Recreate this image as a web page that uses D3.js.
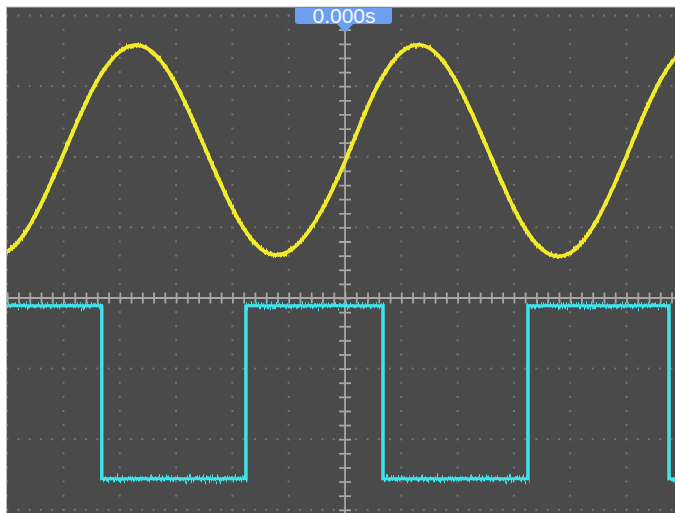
<!DOCTYPE html>
<html>
<head>
<meta charset="utf-8">
<script src="https://cdn.jsdelivr.net/npm/d3@7"></script>
<style>
  html, body { margin: 0; padding: 0; background: #ffffff; }
  svg { display: block; }
</style>
</head>
<body>
<svg id="scope" width="675" height="513"></svg>
<script>
// ---- Waveform data (time in divisions, amplitude in divisions) ----
// CH1: sine trace, sampled every half division
const ch1Times = [-6.5, -6.0, -5.5, -5.0, -4.5, -4.0, -3.5, -3.0, -2.5, -2.0, -1.5, -1.0, -0.5,
                  0.0, 0.5, 1.0, 1.5, 2.0, 2.5, 3.0, 3.5, 4.0, 4.5, 5.0, 5.5, 6.0, 6.5];
const ch1Values = [0.68, 0.66, 1.17, 2.04, 2.93, 3.49, 3.53, 3.02, 2.15, 1.27, 0.70, 0.66, 1.12,
                   1.93, 2.88, 3.48, 3.54, 3.03, 2.17, 1.27, 0.69, 0.64, 1.14, 2.01, 2.93, 3.49, 3.53];

// CH2: square trace, level held from each start time until the next one
const ch2Starts = [-6.2, -4.32, -1.76, 0.675, 3.25, 5.755];
const ch2Levels = [-0.11, -2.56, -0.11, -2.56, -0.11, -2.56];
const ch2End = 6.3;

// Trigger time marker
const triggerLabel = "0.000s";
const triggerTime = 0;

// ---- Layout ----
const W = 675, H = 513;
const plotLeft = 7, plotTop = 7.5;
const centerX = 345, centerY = 298;
const divX = 56.3, divY = 70.6;

const x = d3.scaleLinear().domain([-6, 6]).range([centerX - 6 * divX, centerX + 6 * divX]);
const y = d3.scaleLinear().domain([-4, 4]).range([centerY + 4 * divY, centerY - 4 * divY]);

const svg = d3.select("#scope");

const defs = svg.append("defs");
defs.append("clipPath").attr("id", "screen")
  .append("rect").attr("x", plotLeft).attr("y", plotTop)
  .attr("width", W - plotLeft).attr("height", H - plotTop);

// trace texture: solid core plus a vertically jittered copy for the fuzzy edge
function jitterFilter(id, freq, scale, seed) {
  const f = defs.append("filter").attr("id", id)
    .attr("filterUnits", "userSpaceOnUse")
    .attr("x", 0).attr("y", 0).attr("width", W).attr("height", H);
  f.append("feTurbulence").attr("type", "fractalNoise")
    .attr("baseFrequency", freq).attr("numOctaves", 2).attr("seed", seed).attr("result", "noise");
  f.append("feColorMatrix").attr("in", "noise").attr("type", "matrix")
    .attr("values", "0 0 0 0 0.5  0 1 0 0 0  0 0 0 0 0  0 0 0 0 1").attr("result", "map");
  f.append("feDisplacementMap").attr("in", "SourceGraphic").attr("in2", "map")
    .attr("scale", scale).attr("xChannelSelector", "R").attr("yChannelSelector", "G")
    .attr("result", "disp");
  const m = f.append("feMerge").attr("result", "merged");
  m.append("feMergeNode").attr("in", "disp");
  m.append("feMergeNode").attr("in", "SourceGraphic");
  f.append("feGaussianBlur").attr("in", "merged").attr("stdDeviation", 0.5);
}
jitterFilter("jitter1", "0.9 0.03", 7, 4);
jitterFilter("jitter2", "0.8 0.03", 12, 7);

// screen background
svg.append("rect").attr("x", 0).attr("y", 0).attr("width", W).attr("height", H).attr("fill", "#ffffff");
svg.append("rect").attr("x", plotLeft - 1).attr("y", plotTop - 1)
  .attr("width", W).attr("height", H).attr("fill", "#bdbdbd");
svg.append("rect").attr("x", plotLeft).attr("y", plotTop)
  .attr("width", W).attr("height", H).attr("fill", "#4a4a4a");

const screen = svg.append("g").attr("clip-path", "url(#screen)");

// ---- Dotted graticule ----
const dotColor = "#737373";
const grid = screen.append("g");
const minorX = d3.range(-30, 31).map(k => k / 5);
const minorY = d3.range(-20, 21).map(k => k / 5);
const majorX = d3.range(-6, 7).filter(v => v !== 0);
const majorY = d3.range(-4, 5).filter(v => v !== 0);

majorY.forEach(v => {
  grid.selectAll(null).data(minorX).join("rect")
    .attr("x", d => x(d) - 1).attr("y", y(v) - 1)
    .attr("width", 2).attr("height", 2).attr("fill", dotColor);
});
majorX.forEach(t => {
  grid.selectAll(null).data(minorY).join("rect")
    .attr("x", x(t) - 1).attr("y", d => y(d) - 1)
    .attr("width", 2).attr("height", 2).attr("fill", dotColor);
});

// ---- Centre axes with minor ticks on both sides ----
const axisColor = "#a6a6a6";
function styleAxis(g) {
  g.select(".domain").remove();
  g.selectAll("line").attr("stroke", axisColor).attr("stroke-width", 1.8);
  g.selectAll("text").remove();
}
const hTicks = d3.range(-30, 31).map(k => k / 5);
const vTicks = d3.range(-20, 21).map(k => k / 5);
screen.append("g").attr("transform", `translate(0,${centerY})`)
  .call(d3.axisBottom(x).tickValues(hTicks).tickSize(5.5).tickFormat(""))
  .call(styleAxis);
screen.append("g").attr("transform", `translate(0,${centerY})`)
  .call(d3.axisTop(x).tickValues(hTicks).tickSize(5.5).tickFormat(""))
  .call(styleAxis);
screen.append("g").attr("transform", `translate(${centerX},0)`)
  .call(d3.axisLeft(y).tickValues(vTicks).tickSize(6).tickFormat(""))
  .call(styleAxis);
screen.append("g").attr("transform", `translate(${centerX},0)`)
  .call(d3.axisRight(y).tickValues(vTicks).tickSize(6).tickFormat(""))
  .call(styleAxis);
screen.append("line")
  .attr("x1", x(-6)).attr("x2", x(6)).attr("y1", y(0)).attr("y2", y(0))
  .attr("stroke", axisColor).attr("stroke-width", 1.8);
screen.append("line")
  .attr("x1", x(0)).attr("x2", x(0)).attr("y1", y(4)).attr("y2", y(-4))
  .attr("stroke", axisColor).attr("stroke-width", 1.8);

// ---- CH1 sine trace ----
const ch1 = ch1Times.map((t, i) => [t, ch1Values[i]]);
screen.append("path")
  .datum(ch1)
  .attr("d", d3.line().x(d => x(d[0])).y(d => y(d[1])).curve(d3.curveNatural))
  .attr("fill", "none")
  .attr("stroke", "#f2ea2a")
  .attr("stroke-width", 3.6)
  .attr("stroke-linejoin", "round")
  .attr("filter", "url(#jitter1)");

// ---- CH2 square trace ----
const ch2 = ch2Starts.map((t, i) => [t, ch2Levels[i]]);
ch2.push([ch2End, ch2Levels[ch2Levels.length - 1]]);
screen.append("path")
  .datum(ch2)
  .attr("d", d3.line().x(d => x(d[0])).y(d => y(d[1])).curve(d3.curveStepAfter))
  .attr("fill", "none")
  .attr("stroke", "#3fe3ea")
  .attr("stroke-width", 3)
  .attr("filter", "url(#jitter2)");

// ---- Trigger time marker ----
const marker = svg.append("g").attr("clip-path", "url(#screen)");
const mx = x(triggerTime);
marker.append("path")
  .attr("d", `M${mx - 50},${plotTop} H${mx + 47} V${24 - 3} Q${mx + 47},24 ${mx + 44},24 H${mx + 8} L${mx},33 L${mx - 8},24 H${mx - 47} Q${mx - 50},24 ${mx - 50},${24 - 3} Z`)
  .attr("fill", "#6c9ef2");
marker.append("text")
  .attr("x", mx - 1).attr("y", 23)
  .attr("text-anchor", "middle")
  .attr("font-family", "'Liberation Sans', Arial, sans-serif")
  .attr("font-size", 21)
  .attr("fill", "#f4f8ff")
  .text(triggerLabel);
</script>
</body>
</html>
